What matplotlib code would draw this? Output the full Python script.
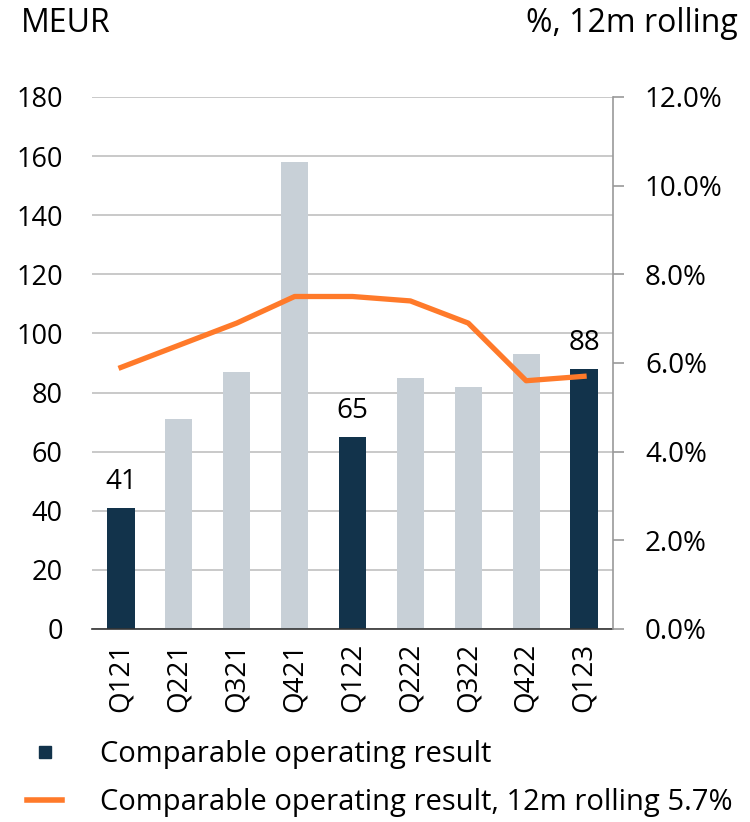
import matplotlib.pyplot as plt
from matplotlib.lines import Line2D
import numpy as np

plt.rcParams['font.family'] = ['Open Sans', 'DejaVu Sans']

# Data
quarters = ['Q121', 'Q221', 'Q321', 'Q421', 'Q122', 'Q222', 'Q322', 'Q422', 'Q123']
operating_result = [41, 71, 87, 158, 65, 85, 82, 93, 88]
highlighted = [True, False, False, False, True, False, False, False, True]
rolling_pct = [5.9, 6.4, 6.9, 7.5, 7.5, 7.4, 6.9, 5.6, 5.7]

navy = '#12334b'
grey = '#c8d0d7'
orange = '#ff7a2a'
fs = 19.5

fig = plt.figure(figsize=(7.5, 8.22), dpi=100)
ax = fig.add_axes([0.1227, 0.2348, 0.6946, 0.6472])
x = np.arange(len(quarters))
colors = [navy if h else grey for h in highlighted]
ax.bar(x, operating_result, width=0.47, color=colors, zorder=2)

for xi, v, h in zip(x, operating_result, highlighted):
    if h:
        ax.text(xi, v + 4, str(v), ha='center', va='bottom', fontsize=20)

ax.set_xlim(-0.5, len(quarters) - 0.5)
ax.set_ylim(0, 180)
ax.set_yticks(np.arange(0, 181, 20))
ax.yaxis.grid(True, color='#c0c0c0', linewidth=1.2, zorder=0)
ax.set_axisbelow(True)
ax.set_xticks(x)
ax.set_xticklabels(quarters, rotation=90, fontsize=20)
ax.tick_params(axis='y', length=0, labelsize=fs, pad=21)
ax.tick_params(axis='x', length=0, pad=10)
for s in ['top', 'right', 'left']:
    ax.spines[s].set_visible(False)
ax.spines['bottom'].set_color('#333333')
ax.spines['bottom'].set_linewidth(1.2)

ax2 = ax.twinx()
ax2.plot(x, rolling_pct, color=orange, linewidth=3.8, zorder=3)
ax2.set_ylim(0, 12)
ax2.set_yticks(np.arange(0, 12.1, 2))
ax2.set_yticklabels([f'{v:.1f}%' for v in np.arange(0, 12.1, 2)])
ax2.tick_params(axis='y', length=8, width=1.2, color='#999999', labelsize=20, pad=15)
for s in ['top', 'left', 'bottom']:
    ax2.spines[s].set_visible(False)
ax2.spines['right'].set_color('#999999')
ax2.spines['right'].set_linewidth(1.2)

fig.text(0.028, 0.971, 'MEUR', fontsize=23, ha='left', va='center')
fig.text(0.984, 0.971, '%, 12m rolling', fontsize=23, ha='right', va='center')

handles = [
    Line2D([], [], marker='s', linestyle='none', color=navy, markersize=8),
    Line2D([], [], color=orange, linewidth=4),
]
labels = ['Comparable operating result', 'Comparable operating result, 12m rolling 5.7%']
fig.legend(handles, labels, loc='lower left', bbox_to_anchor=(0.036, 0.006), frameon=False,
           fontsize=21, handlelength=1.2, handletextpad=1.3, labelspacing=0.65,
           borderaxespad=0, borderpad=0)

fig.savefig('out.png', dpi=100)
